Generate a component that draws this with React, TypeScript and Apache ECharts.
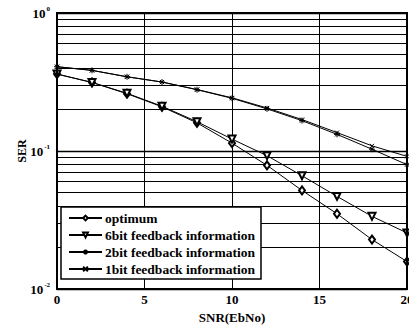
import React, { useEffect, useRef } from 'react';
import * as echarts from 'echarts';

const snr = [0, 2, 4, 6, 8, 10, 12, 14, 16, 18, 20];
const optimum = [0.361, 0.314, 0.26, 0.209, 0.16, 0.114, 0.0787, 0.0518, 0.0351, 0.0228, 0.0158];
const bit6 = [0.361, 0.314, 0.262, 0.211, 0.163, 0.122, 0.0925, 0.0662, 0.0469, 0.0336, 0.0255];
const bit2 = [0.408, 0.384, 0.345, 0.316, 0.278, 0.241, 0.202, 0.166, 0.132, 0.103, 0.0796];
const bit1 = [0.408, 0.384, 0.345, 0.316, 0.279, 0.243, 0.205, 0.169, 0.136, 0.109, 0.0914];
const seriesNames = ['optimum', '6bit feedback information', '2bit feedback information', '1bit feedback information'];
const minorGrid = [0.02, 0.03, 0.04, 0.05, 0.06, 0.07, 0.08, 0.09, 0.2, 0.3, 0.4, 0.5, 0.6, 0.7, 0.8, 0.9];

const FONT = '"Liberation Serif", "Times New Roman", serif';
const STAR = 'path://M5,0L5,10M0,5L10,5M1.5,1.5L8.5,8.5M8.5,1.5L1.5,8.5';
const CROSS = 'path://M0,0L10,10M10,0L0,10';

export default function App() {
  const ref = useRef<HTMLDivElement>(null);
  useEffect(() => {
    document.body.style.margin = '0';
    const chart = echarts.init(ref.current!, null, { renderer: 'svg' });
    const pairs = (arr: number[]) => snr.map((x, i) => [x, arr[i]]);
    const base = {
      type: 'line',
      lineStyle: { color: '#000', width: 1 },
      itemStyle: { color: '#000', borderColor: '#000', borderWidth: 1 },
      z: 3,
    };
    chart.setOption({
      animation: false,
      backgroundColor: '#fff',
      grid: {
        left: 57, right: 2, top: 13, bottom: 37,
        outerBoundsMode: 'none', containLabel: false,
        show: true, borderColor: '#000', borderWidth: 2, backgroundColor: 'transparent', z: 5,
      },
      legend: {
        data: seriesNames,
        orient: 'vertical',
        left: 61,
        top: 207,
        backgroundColor: '#fff',
        borderColor: '#000',
        borderWidth: 1.5,
        padding: [4, 6, 3, 7],
        itemWidth: 33,
        itemHeight: 6,
        itemGap: 3,
        textStyle: { fontFamily: FONT, fontWeight: 'bold', fontSize: 13.5, color: '#000', padding: [0, 0, 0, -2] },
        z: 10,
      },
      xAxis: {
        type: 'value',
        min: 0,
        max: 20,
        interval: 5,
        name: 'SNR(EbNo)',
        nameLocation: 'middle',
        nameGap: 19,
        nameTextStyle: { fontFamily: FONT, fontWeight: 'bold', fontSize: 13, color: '#000' },
        axisLine: { show: false },
        axisTick: { show: false },
        axisLabel: { fontFamily: FONT, fontWeight: 'bold', fontSize: 13, color: '#000', margin: 4 },
        splitLine: { show: true, lineStyle: { color: '#000', width: 1 } },
      },
      yAxis: {
        type: 'log',
        logBase: 10,
        min: 0.01,
        max: 1,
        name: 'SER',
        nameLocation: 'middle',
        nameGap: 29,
        nameMoveOverlap: false,
        nameTextStyle: { fontFamily: FONT, fontWeight: 'bold', fontSize: 12, color: '#000' },
        axisLine: { show: false },
        axisTick: { show: false },
        axisLabel: {
          margin: 7,
          formatter: (v: number) => `{b|10}{s|${Math.round(Math.log10(v))}}`,
          rich: {
            b: { fontFamily: FONT, fontWeight: 'bold', fontSize: 13, color: '#000' },
            s: { fontFamily: FONT, fontWeight: 'bold', fontSize: 7, color: '#000', padding: [0, 0, 9, 1] },
          },
        },
        splitLine: { show: true, lineStyle: { color: '#000', width: 1.3 } },
      },
      series: [
        {
          ...base,
          name: seriesNames[0],
          data: pairs(optimum),
          symbol: 'emptyDiamond',
          symbolSize: [6, 8],
          markLine: {
            silent: true,
            symbol: 'none',
            label: { show: false },
            lineStyle: { color: '#000', type: 'solid', width: 1 },
            data: minorGrid.map((v) => ({ yAxis: v })),
            z: 1,
          },
        },
        { ...base, name: seriesNames[1], data: pairs(bit6), symbol: 'emptyTriangle', symbolRotate: 180, symbolSize: 7 },
        { ...base, name: seriesNames[2], data: pairs(bit2), symbol: STAR, symbolSize: 6 },
        { ...base, name: seriesNames[3], data: pairs(bit1), symbol: CROSS, symbolSize: 4 },
      ],
    });
    return () => chart.dispose();
  }, []);
  return <div ref={ref} style={{ width: 409, height: 326 }} />;
}
